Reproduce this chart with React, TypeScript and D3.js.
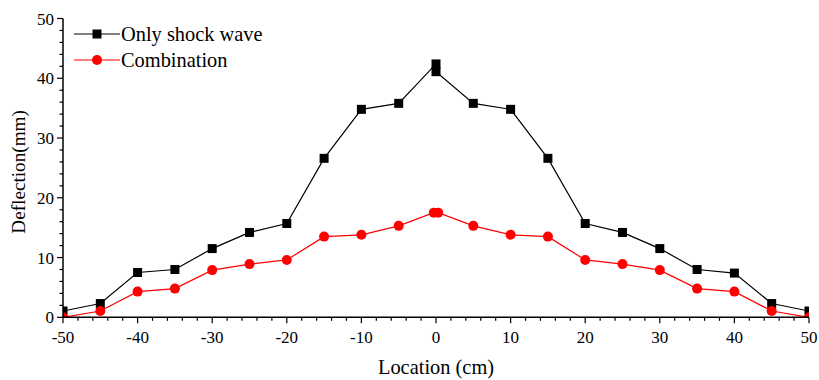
import React from "react";
import * as d3 from "d3";

const shockX = [-50, -45, -40, -35, -30, -25, -20, -15, -10, -5, 0, 0, 5, 10, 15, 20, 25, 30, 35, 40, 45, 50];
const shockY = [1.05, 2.3, 7.5, 8.0, 11.5, 14.2, 15.7, 26.6, 34.8, 35.8, 42.4, 41.1, 35.8, 34.8, 26.6, 15.7, 14.2, 11.5, 8.0, 7.4, 2.3, 1.05];
const combX = [-50, -45, -40, -35, -30, -25, -20, -15, -10, -5, -0.3, 0.3, 5, 10, 15, 20, 25, 30, 35, 40, 45, 50];
const combY = [0, 1.05, 4.3, 4.8, 7.9, 8.9, 9.6, 13.5, 13.8, 15.3, 17.5, 17.5, 15.3, 13.8, 13.5, 9.6, 8.9, 7.9, 4.8, 4.3, 1.05, 0];
const xTicks = [-50, -40, -30, -20, -10, 0, 10, 20, 30, 40, 50];
const yTicks = [0, 10, 20, 30, 40, 50];
const seriesNames = ["Only shock wave", "Combination"];

const W = 819, H = 380;
const left = 63, right = 809, top = 18.5, bottom = 317.3;
const font = "'Liberation Serif', 'Times New Roman', serif";

export default function App() {
  const x = d3.scaleLinear().domain([-50, 50]).range([left, right]);
  const y = d3.scaleLinear().domain([0, 50]).range([bottom, top]);
  const line = d3.line<[number, number]>().x(d => x(d[0])).y(d => y(d[1]));
  const shock: [number, number][] = shockX.map((v, i) => [v, shockY[i]]);
  const comb: [number, number][] = combX.map((v, i) => [v, combY[i]]);
  const xMinor = d3.range(-50, 50.01, 2).filter(v => !xTicks.includes(Math.round(v)));
  const yMinor = d3.range(0, 50.01, 2).filter(v => !yTicks.includes(Math.round(v)));
  const sq = 9;
  return (
    <svg width={W} height={H} style={{ position: "absolute", left: 0, top: 0, background: "#fff" }} fontFamily={font}>
      <defs>
        <clipPath id="plot"><rect x={left} y={top - 10} width={right - left} height={bottom - top + 10} /></clipPath>
      </defs>
      <g clipPath="url(#plot)">
        <path d={line(shock) || ""} fill="none" stroke="#000" strokeWidth={1.2} />
        <path d={line(comb) || ""} fill="none" stroke="#ff0000" strokeWidth={1.2} />
        {shock.map((d, i) => (
          <rect key={"s" + i} x={x(d[0]) - sq / 2} y={y(d[1]) - sq / 2} width={sq} height={sq} fill="#000" />
        ))}
        {comb.map((d, i) => (
          <circle key={"c" + i} cx={x(d[0])} cy={y(d[1])} r={5} fill="#ff0000" />
        ))}
      </g>
      {/* axes */}
      <line x1={left} x2={right} y1={bottom} y2={bottom} stroke="#000" strokeWidth={1.5} />
      <line x1={left} x2={left} y1={top} y2={bottom} stroke="#000" strokeWidth={1.5} />
      {xTicks.map(t => (
        <g key={"xt" + t}>
          <line x1={x(t)} x2={x(t)} y1={bottom} y2={bottom + 6} stroke="#000" strokeWidth={1.2} />
          <text x={x(t)} y={bottom + 26} textAnchor="middle" fontSize={17} fill="#000">{t}</text>
        </g>
      ))}
      {xMinor.map(t => (
        <line key={"xm" + t} x1={x(t)} x2={x(t)} y1={bottom} y2={bottom + 3.5} stroke="#000" strokeWidth={1.2} />
      ))}
      {yTicks.map(t => (
        <g key={"yt" + t}>
          <line x1={left - 6} x2={left} y1={y(t)} y2={y(t)} stroke="#000" strokeWidth={1.2} />
          <text x={left - 9} y={y(t) + 6} textAnchor="end" fontSize={17} fill="#000">{t}</text>
        </g>
      ))}
      {yMinor.map(t => (
        <line key={"ym" + t} x1={left - 3.5} x2={left} y1={y(t)} y2={y(t)} stroke="#000" strokeWidth={1.2} />
      ))}
      <text x={436} y={374} textAnchor="middle" fontSize={20.4} fill="#000">Location (cm)</text>
      <text transform={`translate(25,${(top + bottom) / 2 + 4}) rotate(-90)`} textAnchor="middle" fontSize={19.2} fill="#000">Deflection(mm)</text>
      {/* legend */}
      <g>
        <line x1={74} x2={120} y1={34} y2={34} stroke="#000" strokeWidth={1.2} />
        <rect x={97 - sq / 2} y={34 - sq / 2} width={sq} height={sq} fill="#000" />
        <text x={121} y={41} fontSize={20.4} fill="#000">{seriesNames[0]}</text>
        <line x1={74} x2={120} y1={60} y2={60} stroke="#ff0000" strokeWidth={1.2} />
        <circle cx={97} cy={60} r={5} fill="#ff0000" />
        <text x={121} y={67} fontSize={20.4} fill="#000">{seriesNames[1]}</text>
      </g>
    </svg>
  );
}
